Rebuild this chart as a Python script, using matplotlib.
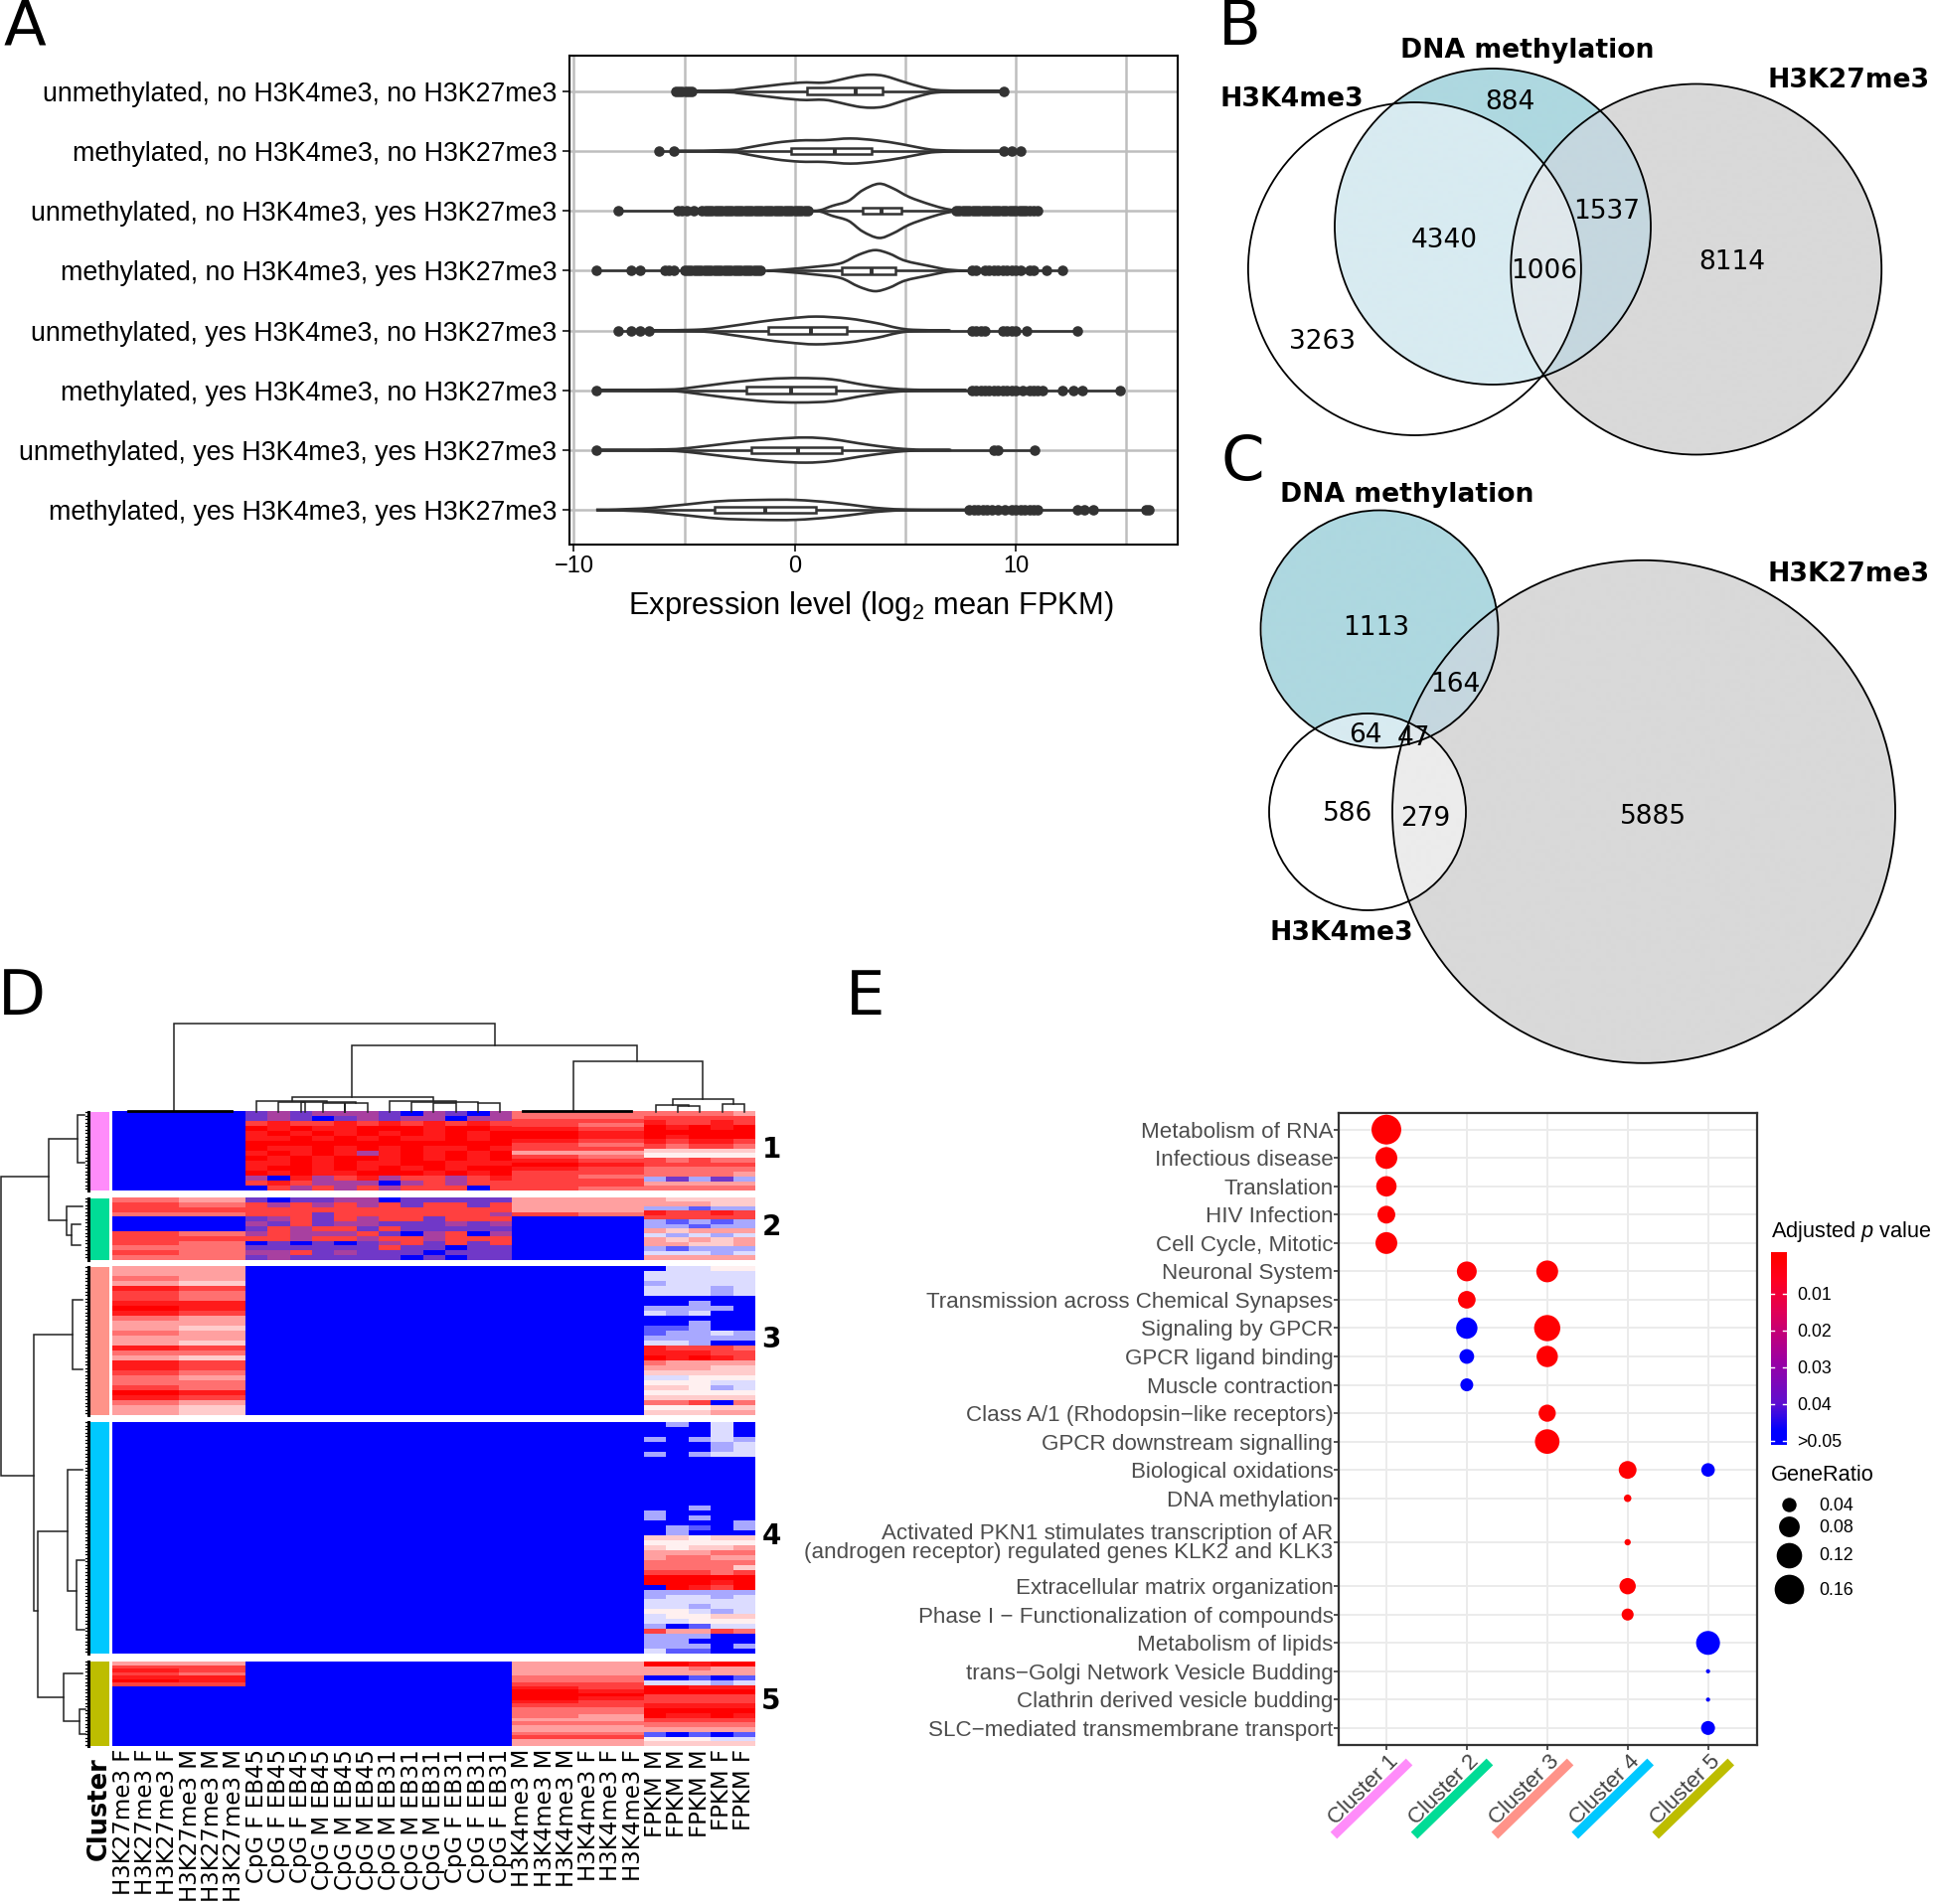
import numpy as np
import matplotlib
matplotlib.use('Agg')
import matplotlib.pyplot as plt
from matplotlib.colors import ListedColormap, LinearSegmentedColormap, Normalize, to_rgb
from matplotlib.path import Path
from matplotlib.patches import PathPatch, Circle, Rectangle

plt.rcParams['mathtext.fontset'] = 'custom'
plt.rcParams['mathtext.rm'] = 'Liberation Sans'
plt.rcParams['mathtext.it'] = 'Liberation Sans:italic'
SANS = 'Liberation Sans'

W, H = 1946, 1916

# --- Panel A ---
violin_labels = ['unmethylated, no H3K4me3, no H3K27me3', 'methylated, no H3K4me3, no H3K27me3',
                 'unmethylated, no H3K4me3, yes H3K27me3', 'methylated, no H3K4me3, yes H3K27me3',
                 'unmethylated, yes H3K4me3, no H3K27me3', 'methylated, yes H3K4me3, no H3K27me3',
                 'unmethylated, yes H3K4me3, yes H3K27me3', 'methylated, yes H3K4me3, yes H3K27me3']
violin_x = [
    [-4.55, -2.9, -2.53, -1.25, .22, 1.32, 2.05, 2.79, 3.43, 4.07, 4.99, 5.72, 6.37, 7.56, 9.39],
    [-5.28, -2.9, -2.17, -.88, .22, 1.32, 2.51, 3.71, 4.81, 5.72, 6.37, 7.56, 9.39],
    [.59, 1.14, 1.69, 2.42, 3.06, 3.8, 4.44, 5.17, 6.09, 6.83, 7.28],
    [-1.25, -.51, .95, 2.06, 2.88, 3.61, 4.26, 4.99, 6.09, 6.92, 7.74],
    [-6.39, -4.55, -3.45, -1.61, -.33, .95, 2.42, 3.71, 4.62, 5.36, 6.83],
    [-8.77, -5.83, -4.92, -3.08, -1.25, .22, 1.69, 3.16, 4.44, 5.72, 7.56],
    [-8.95, -5.83, -4.55, -2.53, -.88, .5, 1.69, 3.34, 4.99, 6.83],
    [-8.99, -6.94, -5.28, -3.45, -1.61, .04, 1.69, 3.16, 4.07, 5.17, 7.56]]
violin_w = [
    [0, .017, .033, .088, .144, .144, .193, .254, .276, .254, .149, .072, .022, .006, 0],
    [0, .017, .055, .138, .177, .182, .21, .177, .116, .05, .017, .006, 0],
    [0, .011, .083, .166, .343, .453, .376, .232, .11, .033, .006],
    [0, .017, .066, .122, .265, .343, .287, .166, .077, .017, 0],
    [0, .011, .044, .144, .199, .232, .199, .122, .044, .011, 0],
    [0, .011, .033, .122, .188, .204, .182, .088, .028, .006, 0],
    [0, .011, .044, .133, .188, .21, .182, .088, .017, 0],
    [0, .022, .077, .144, .166, .166, .122, .055, .022, .006, 0]]
box_q1 = [.55, -.15, 3.05, 2.1, -1.2, -2.2, -1.95, -3.65]
box_med = [2.75, 1.8, 3.9, 3.45, .75, -.15, .15, -1.35]
box_q3 = [3.95, 3.45, 4.8, 4.55, 2.35, 1.85, 2.1, .95]
outliers = [
    [-5.4, -5.25, -5.1, -4.95, -4.8, -4.65, 9.45],
    [-6.15, -5.5, 9.45, 9.8, 10.2],
    [-8, -5.3, -5.1, -4.9, -4.6, -4.2, -4.05, -3.9, -3.75, -3.6, -3.45, -3.3, -3.15, -3, -2.85, -2.7, -2.55, -2.4, -2.25,
     -2.1, -1.95, -1.8, -1.65, -1.5, -1.35, -1.2, -1.05, -.9, -.75, -.6, -.45, -.3, -.15, 0, .15, .3, .45, .6,
     7.3, 7.45, 7.6, 7.75, 7.9, 8.05, 8.2, 8.35, 8.5, 8.65, 8.8, 8.95, 9.1, 9.25, 9.4, 9.55, 9.7, 9.85, 10, 10.15, 10.3,
     10.45, 10.6, 10.8, 11],
    [-9, -7.4, -7, -5.9, -5.7, -5.5, -5, -4.85, -4.7, -4.55, -4.4, -4.25, -4.1, -3.95, -3.8, -3.65, -3.5, -3.35, -3.2,
     -3.05, -2.9, -2.75, -2.6, -2.45, -2.3, -2.15, -2, -1.85, -1.7, -1.55,
     8, 8.2, 8.6, 8.8, 9, 9.2, 9.4, 9.6, 9.8, 10, 10.2, 10.6, 10.8, 11.4, 12.1],
    [-8, -7.4, -7, -6.6, 8, 8.2, 8.4, 8.6, 9.4, 9.6, 9.8, 10, 10.5, 12.8],
    [-9, 8, 8.2, 8.4, 8.6, 8.8, 9, 9.2, 9.4, 9.6, 9.8, 10, 10.3, 10.6, 10.8, 11, 11.2, 12.1, 12.6, 13, 14.7],
    [-9, 9, 9.2, 10.85],
    [7.9, 8.1, 8.3, 8.5, 8.7, 8.9, 9.2, 9.5, 9.8, 10, 10.2, 10.4, 10.6, 10.8, 11, 12.8, 13.1, 13.5, 15.9, 16]]

# --- Panel B / C ---
venn_b_counts = {'884': (1224, 81), '4340': (1171, 193), '1537': (1303, 170), '1006': (1252, 218),
                 '8114': (1404, 211), '3263': (1072, 275)}
venn_c_counts = {'1113': (1116, 507), '164': (1180, 553), '64': (1107, 594), '47': (1146, 597),
                 '586': (1093, 658), '279': (1156, 662), '5885': (1340, 660)}

# --- Panel D ---
col_labels = ['H3K27me3 F'] * 3 + ['H3K27me3 M'] * 3 + ['CpG F EB45'] * 3 + ['CpG M EB45'] * 3 + \
             ['CpG M EB31'] * 3 + ['CpG F EB31'] * 3 + ['H3K4me3 M'] * 3 + ['H3K4me3 F'] * 3 + \
             ['FPKM M'] * 3 + ['FPKM F'] * 2
cluster_names = ['1', '2', '3', '4', '5']
cluster_colors = ['#ff8cfa', '#00dc96', '#ff9389', '#00c8ff', '#bdbd00']
heat_colors = ['#0000ff', '#5a5aff', '#a8a8ff', '#dcdcff', '#fff0f0', '#ffcccc', '#ffa0a0',
               '#ff7070', '#ff4040', '#ff1a1a', '#ff0000', '#7038c8', '#a840a0']
# every row is a string of hex indexes into heat_colors
k27_rows = [['0'],
            ['76', '87', '88', '77', '00', '00', '00', '87', '88', '87', '77', '87', '77'],
            ['66', '66', '76', '65', '98', '87', '87', '99', 'a9', '98', '76', '66', '65', '76', '66',
             '65', '98', '77', '65', '98', '98', '87', '76', '77', '87', 'a9', '98', '76', '65', '65'],
            ['0'],
            ['66', '88', '98', '87', '99', 'a9', '88', '00', '00', '00', '00', '00', '00', '00', '00',
             '00', '00', '00', '00', '00', '00', '00', '00', '00']]
cpg_rows = [['bcbcccb0cb0c', 'bcb0bcbcc0cc', '898898989898', 'a9a99aaa9aa9', '9a9a9a9a9a9a', '99a9a9a99a9a',
             'aaaaaaaaaaaa', 'a99a9a9a99a9', '9a9a9c9a9a9a', 'a9a9aa9a9a9a', '99a9a99aa999', '9aa9a9a9a9aa',
             'a9a99aaa9a9a', 'c09c89c88c89', '898ccc0c8c88', '08c8c8c88808'],
            ['b0bbcc0bbbbb', '8c8c8c8b88b8', '888888888888', '888b8888888c', 'bc8b8c88b888', 'cb8bccbbbcbc',
             'b8c88b8bbbbb', 'c8ccc8b0c80c', '88c88c88c888', '0b0b0bc8b8b8', 'bbbbbb8bb0bb', 'cc8bcbbb0bbb',
             'bcbbbbb0b0bb'],
            ['0'], ['0'], ['0']]
k4_rows = [['77', '77', '88', '87', '98', 'a9', 'a9', '98', '87', '88', '66', '87', '98', 'a9', '98', '88', '87',
            '88', '88', '87'],
           ['66', '66', '66', '87', '00', '00', '00', '00', '00', '00', '00', '00', '00'],
           ['0'], ['0'],
           ['66', '66', '66', '66', '77', '77', '88', '98', 'a9', 'aa', 'a9', '98', '88', '77', '77', '76', '66',
            '77', '66', '66', '77', '88', '66', '66']]
fpkm_rows = [['77776', '88888', '98898', 'a9a9a', 'aaaaa', 'a9aaa', '98998', '87887', '55555', '44444', '87877',
              '88888', '77777', '77776', '2b2b2', '66666', '77777'],
             ['65555', '66655', '22122', '98898', '88888', '21212', '22122', '65666', '32323', '65656', '66556',
              '21222', '33323', '66666'],
             ['03344', '33333', '33333', '23333', '33323', '33323', '00000', '00200', '22220', '32300', '00000',
              '00200', '11200', '12232', '22222', '33200', '98887', '99988', 'a9a98', '76666', '66655', '55555',
              '33444', '44433', '55423', '44444', '55555', '77807', '44455', '55566'],
             ['02030', '00030', '00030', '20232', '00023', '00023', '20233', '00000', '00000', '00000', '00000',
              '00000', '00000', '00000', '00000', '00000', '00000', '00200', '20000', '20200', '00002', '02102',
              '02000', '55455', '44444', '54556', '66677', '67766', '77777', '77775', '88878', 'aaaaa', 'aaa9a',
              '0a98a', '22222', '23323', '33333', '33233', '44323', '34455', '33444', '20133', '86687', '22200',
              '22000', '22202', '31100'],
             ['aa9aa', '66766', '66666', '00101', '33323', 'aa999', 'aaaaa', '88888', '88888', '99999', 'aaaaa',
              'a99a9', '88888', '77777', '66666', '10101', '44433', '55555']]
# top dendrogram links: left col, right col, top y, left bottom y, right bottom y
top_links = [(2.78, 17.24, 1030, 1118, 1051.7), (10.79, 23.68, 1051.7, 1104, 1067.7),
             (20.78, 26.64, 1067.7, 1117.5, 1106), (25.27, 28.03, 1106, 1112, 1111),
             (24.5, 26, 1112, 1119, 1113), (25.5, 26.5, 1113, 1119, 1119), (27.5, 28.5, 1111, 1119, 1119),
             (8.1, 14.5, 1104, 1108, 1108), (6.5, 9.7, 1108, 1119, 1109), (7.5, 8.7, 1109, 1119, 1119),
             (8.5, 11.0, 1109, 1119, 1110), (9.5, 11.5, 1110, 1119, 1119), (10.5, 10.5, 1110, 1119, 1119),
             (12.5, 15.5, 1108, 1119, 1108.5), (13.5, 16.5, 1108.5, 1119, 1110), (14.5, 15.5, 1110, 1119, 1119),
             (16.5, 17.5, 1110, 1119, 1119)]
top_flat = [(0.7, 5.4, 1118), (18.5, 23.4, 1118)]
# left dendrogram nodes: node x, upper y, upper end x, lower y, lower end x
left_nodes = [(1.3, 1184, 49, 1485, 34), (49, 1146, 78, 1228, 66.7), (78, 1122, 85, 1170, 85),
              (66.7, 1214, 83, 1243, 72), (72, 1232, 81, 1253, 81), (34, 1343, 73, 1621, 37.7),
              (73, 1308, 83, 1378, 83), (37.7, 1541, 68, 1708, 64), (68, 1479, 83, 1601, 77),
              (77, 1570, 85, 1640, 85), (64, 1684, 83, 1732, 80), (80, 1720, 86, 1745, 86)]

# --- Panel E ---
gene_sets = ['Metabolism of RNA', 'Infectious disease', 'Translation', 'HIV Infection', 'Cell Cycle, Mitotic',
             'Neuronal System', 'Transmission across Chemical Synapses', 'Signaling by GPCR', 'GPCR ligand binding',
             'Muscle contraction', 'Class A/1 (Rhodopsin\u2212like receptors)', 'GPCR downstream signalling',
             'Biological oxidations', 'DNA methylation',
             'Activated PKN1 stimulates transcription of AR\n(androgen receptor) regulated genes KLK2 and KLK3',
             'Extracellular matrix organization', 'Phase I \u2212 Functionalization of compounds', 'Metabolism of lipids',
             'trans\u2212Golgi Network Vesicle Budding', 'Clathrin derived vesicle budding',
             'SLC\u2212mediated transmembrane transport']
set_pos = [0, 1, 2, 3, 4, 5, 6, 7, 8, 9, 10, 11, 12, 13, 14.55, 16.1, 17.1, 18.1, 19.1, 20.1, 21.1]
dot_set = [0, 1, 2, 3, 4, 5, 5, 6, 7, 7, 8, 8, 9, 10, 11, 12, 12, 13, 14, 15, 16, 17, 18, 19, 20]
dot_cluster = [1, 1, 1, 1, 1, 2, 3, 2, 2, 3, 2, 3, 2, 3, 3, 4, 5, 4, 4, 4, 4, 5, 5, 5, 5]
dot_ratio = [.163, .089, .078, .06, .089, .074, .089, .059, .085, .127, .042, .085, .033, .056, .112, .06, .036,
             .013, .01, .051, .029, .106, .006, .006, .038]
dot_padj = [.0005, .0005, .0005, .0005, .0005, .001, .0005, .001, .06, .0005, .06, .0005, .06, .0005, .0005, .0005, .06,
            .0005, .0005, .0005, .0005, .06, .06, .06, .06]
ratio_ticks = [.04, .08, .12, .16]
p_ticks = [.01, .02, .03, .04, .05]
p_tick_labels = ['0.01', '0.02', '0.03', '0.04', '>0.05']


def add_axes_px(left, top, right, bottom):
    return fig.add_axes([left / W, 1 - bottom / H, (right - left) / W, (bottom - top) / H])


fig = plt.figure(figsize=(W / 100, H / 100), dpi=100)
ov = fig.add_axes([0, 0, 1, 1], zorder=0)
ov.axis('off')

for s, x, y in [('A', 25, 28), ('B', 1247, 28), ('C', 1250, 466), ('D', 22, 1004), ('E', 871, 1004)]:
    ov.text(x, y, s, fontsize=45, ha='center', va='center')

# --- A ---
ax = add_axes_px(573, 55.7, 1184.5, 548)
ax.set_xlim(-10.2, 17.3)
ax.set_ylim(7.58, -0.6)
ax.set_axisbelow(True)
ax.set_xticks([-5, 5, 15], minor=True)
ax.set_xticks([-10, 0, 10])
ax.set_xticklabels(['\u221210', '0', '10'], family=SANS, fontsize=17)
ax.set_yticks(range(8))
ax.set_yticklabels(violin_labels, family=SANS, fontsize=19.3)
ax.tick_params(axis='x', which='minor', length=0)
ax.tick_params(length=5, width=1.4, color='#333333', pad=3)
ax.tick_params(axis='y', pad=4)
ax.grid(True, which='both', color='#bebebe', lw=1.8)
ax.set_xlabel(r'Expression level (log$_{2}$ mean FPKM)', family=SANS, fontsize=22.2)
ax.xaxis.set_label_coords(0.4955, -0.0904)
for sp in ax.spines.values():
    sp.set_linewidth(1.5)
for i in range(8):
    xs, ws = violin_x[i], violin_w[i]
    # outline through the read points, smoothed with bezier segments
    px = xs + xs[::-1]
    py = [i - w for w in ws] + [i + w for w in ws[::-1]]
    verts = [(px[0], py[0])]
    codes = [Path.MOVETO]
    n = len(px)
    for k in range(n - 1):
        p0 = np.array((px[max(k - 1, 0)], py[max(k - 1, 0)]))
        p1 = np.array((px[k], py[k]))
        p2 = np.array((px[k + 1], py[k + 1]))
        p3 = np.array((px[min(k + 2, n - 1)], py[min(k + 2, n - 1)]))
        verts += [tuple(p1 + (p2 - p0) / 6), tuple(p2 - (p3 - p1) / 6), tuple(p2)]
        codes += [Path.CURVE4] * 3
    ax.add_patch(PathPatch(Path(verts, codes), fc='white', ec='#333333', lw=1.9, zorder=2))
    low = min(outliers[i] + xs)
    high = max(outliers[i] + xs)
    ax.plot([low, high], [i, i], color='#333333', lw=1.9, zorder=3, solid_capstyle='butt')
    ax.add_patch(Rectangle((box_q1[i], i - 0.055), box_q3[i] - box_q1[i], 0.11, fc='white', ec='#333333',
                           lw=1.8, zorder=4))
    ax.plot([box_med[i]] * 2, [i - 0.055, i + 0.055], color='#333333', lw=2.8, zorder=5, solid_capstyle='butt')
    ax.plot(outliers[i], [i] * len(outliers[i]), 'o', color='#333333', ms=7.6, mew=0, zorder=6)


# --- B, C ---
def draw_venn(dna, k4, k27):
    circles = [k4, dna, k27]
    x0 = min(c[0] - c[2] for c in circles) - 2
    x1 = max(c[0] + c[2] for c in circles) + 2
    y0 = min(c[1] - c[2] for c in circles) - 2
    y1 = max(c[1] + c[2] for c in circles) + 2
    gx, gy = np.meshgrid(np.arange(x0, x1, 0.5), np.arange(y0, y1, 0.5))
    mask = np.zeros(gx.shape, dtype=int)
    for bit, c in enumerate(circles):
        mask += (np.hypot(gx - c[0], gy - c[1]) <= c[2]) * 2 ** bit
    # 1 = H3K4me3, 2 = DNA, 4 = H3K27me3
    regions = ['#ffffff', '#ffffff', '#aed8e0', '#d8ebf1', '#d9d9d9', '#ececec', '#c5d7df', '#e0e8ec']
    rgb = np.array([to_rgb(c) for c in regions])[mask]
    rgba = np.dstack([rgb, (mask > 0).astype(float)])
    ov.imshow(rgba, extent=[x0, x1, y1, y0], aspect='auto', interpolation='bilinear', zorder=1)
    for c in circles:
        ov.add_patch(Circle(c[:2], c[2], fc='none', ec='black', lw=1.3, zorder=2))


draw_venn((1502, 228, 159), (1423.4, 270.5, 167.5), (1706.7, 271, 186.5))
draw_venn((1388, 633, 119.5), (1376, 817, 99), (1654, 816.8, 253))
for d in (venn_b_counts, venn_c_counts):
    for s, (x, y) in d.items():
        ov.text(x * 1946 / 1568, y * 1946 / 1568 + 2.5, s, fontsize=19, ha='center', va='center', zorder=3)
for s, x, y in [('DNA methylation', 1238, 39), ('H3K4me3', 1047, 78), ('H3K27me3', 1499, 63),
                ('DNA methylation', 1141, 399), ('H3K27me3', 1499, 463), ('H3K4me3', 1088, 754)]:
    ov.text(x * 1946 / 1568, y * 1946 / 1568 + 3, s, fontsize=19.2, fontweight='bold', ha='center', va='center', zorder=3)

# --- D ---
heat_cmap = ListedColormap(heat_colors)
hx0, cw = 113, 22.31
row_tops = [1119, 1205.7, 1275, 1431.3, 1671.7]
row_bots = [1198.3, 1268, 1424.3, 1664.3, 1756.7]
groups = [(0, 6, k27_rows), (6, 18, cpg_rows), (18, 24, k4_rows), (24, 29, fpkm_rows)]
for c in range(5):
    y0, y1 = row_tops[c], row_bots[c]
    for c0, c1, rows in groups:
        arr = np.array([[int(ch, 16) for ch in r] for r in rows[c]])
        ov.imshow(arr, extent=[hx0 + c0 * cw, hx0 + c1 * cw, y1, y0], aspect='auto', cmap=heat_cmap,
                  vmin=-0.5, vmax=12.5, interpolation='nearest', zorder=1)
    ov.add_patch(Rectangle((91, y0), 19, y1 - y0, fc=cluster_colors[c], ec='none', zorder=1))
    ov.text(776, (y0 + y1) / 2 - 2, cluster_names[c], fontsize=20, fontweight='bold', ha='center', va='center')
    # dense leaves of the row dendrogram
    ov.plot([88.5, 88.5], [y0, y1], color='black', lw=2.2, zorder=2)
    ys = np.arange(y0, y1, 3.5)
    ov.plot(np.tile([85.5, 89], (len(ys), 1)).T, np.vstack([ys, ys]), color='black', lw=0.9, zorder=2)
for i, s in enumerate(col_labels):
    ov.text(hx0 + (i + 0.5) * cw, 1760, s, rotation=90, fontsize=16.5, ha='center', va='top')
ov.text(100, 1768, 'Cluster', rotation=90, fontsize=18.5, fontweight='bold', ha='center', va='top')
for xl, xr, yt, yl, yr in top_links:
    ov.plot([hx0 + xl * cw, hx0 + xl * cw, hx0 + xr * cw, hx0 + xr * cw], [yl, yt, yt, yr], color='#222222',
            lw=1.1, zorder=2, solid_joinstyle='miter')
for xl, xr, y in top_flat:
    ov.plot([hx0 + xl * cw, hx0 + xr * cw], [y, y], color='black', lw=2, zorder=2)
for xn, yu, xu, yd, xd in left_nodes:
    ov.plot([xu, xn, xn, xd], [yu, yu, yd, yd], color='#222222', lw=1.1, zorder=2, solid_joinstyle='miter')

# --- E ---
grad_cmap = LinearSegmentedColormap.from_list('padj', [(0, '#ff0000'), (.12, '#ff0020'), (.3, '#e00058'),
                                                       (.55, '#a0009f'), (.8, '#6010d0'), (.95, '#0000ff'), (1, '#0000ff')])
p_norm = Normalize(0, 0.05, clip=True)


def ratio_to_s(r):
    # area of the dot, from the legend circles of the picture
    d_px = np.sqrt(np.maximum(5600 * np.asarray(r, dtype=float) - 16, 9))
    return (d_px * 0.72) ** 2


ax = add_axes_px(1347, 1119.6, 1768, 1756)
ax.set_xlim(0.407, 5.61)
ax.set_ylim(21.7, -0.6)
ax.set_axisbelow(True)
ax.grid(True, color='#ebebeb', lw=1.4)
ax.scatter(dot_cluster, [set_pos[i] for i in dot_set], s=ratio_to_s(dot_ratio), c=dot_padj, cmap=grad_cmap,
           norm=p_norm, linewidths=0, zorder=3, clip_on=False)
ax.set_yticks(set_pos)
ax.set_yticklabels(gene_sets, family=SANS, fontsize=16.1, color='#4d4d4d', linespacing=0.85, ma='right')
ax.set_xticks(range(1, 6))
ax.set_xticklabels([])
ax.tick_params(length=3.5, width=1.2, color='#333333', pad=3)
ax.tick_params(axis='y', pad=0.5)
for sp in ax.spines.values():
    sp.set_linewidth(1.6)
    sp.set_color('#333333')
for i, tx in enumerate([1395, 1476, 1557, 1637.7, 1718.7]):
    ov.plot([tx - 53, tx + 23], [1847, 1773], color=cluster_colors[i], lw=6.8, solid_capstyle='butt', zorder=2)
    ov.text(tx + 9, 1769, 'Cluster %d' % (i + 1), family=SANS, fontsize=16.2, color='#444444', rotation=45,
            ha='right', va='center', rotation_mode='anchor', zorder=3)

# colour legend
cb = add_axes_px(1782, 1260, 1797.5, 1454)
grad = np.linspace(-0.0013, 0.0512, 200)[:, None]
cb.imshow(grad, extent=[0, 1, 0.0512, -0.0013], aspect='auto', cmap=grad_cmap, norm=p_norm)
cb.axis('off')
for p in p_ticks:
    cb.plot([0, 0.2], [p, p], color='white', lw=1)
    cb.plot([0.8, 1], [p, p], color='white', lw=1)
cb.set_xlim(0, 1)
cb.set_ylim(0.0512, -0.0013)
for p, s in zip(p_ticks, p_tick_labels):
    y = 1304 + (p - .01) / .01 * 36.9
    ov.text(1808, y, s, family=SANS, fontsize=12.8, ha='left', va='center')
ov.text(1782, 1239, r'Adjusted $\mathit{p}$ value', family=SANS, fontsize=15.7, ha='left', va='center')
ov.text(1782, 1485, 'GeneRatio', family=SANS, fontsize=15.7, ha='left', va='center')
for r, y in zip(ratio_ticks, [1514, 1536, 1564.5, 1599]):
    ov.scatter([1800], [y], s=ratio_to_s(r), c='black', linewidths=0, zorder=3)
    ov.text(1830, y + 1.5, '%.2f' % r, family=SANS, fontsize=12.8, ha='left', va='center')

ov.set_xlim(0, W)
ov.set_ylim(H, 0)
ov.set_aspect('auto')

fig.savefig('out.png', dpi=100)
